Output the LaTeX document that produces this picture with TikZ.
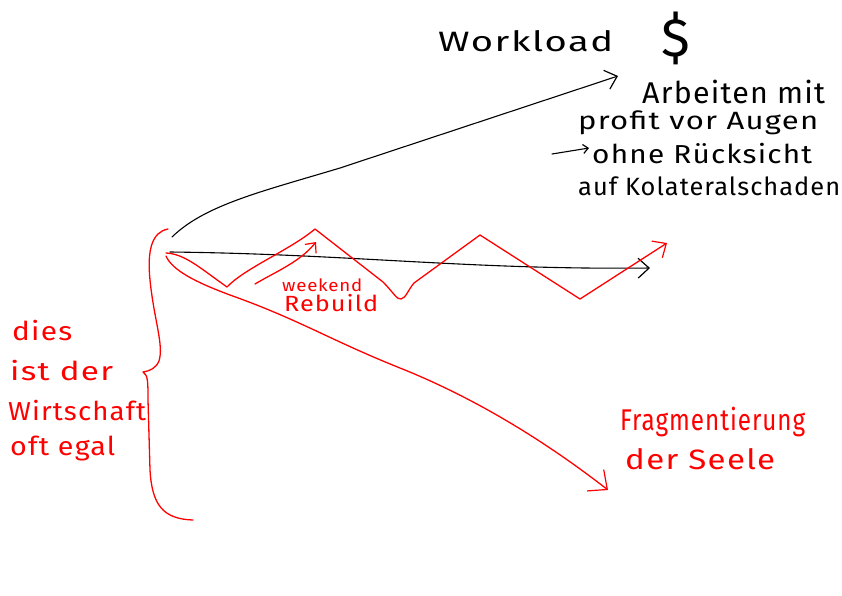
\documentclass[tikz,border=0pt]{standalone}
\usepackage{fontspec}
\setmainfont{Fira Sans}
\newfontfamily\hand[LetterSpace=4]{Fira Sans}
\usetikzlibrary{arrows.meta}
\newsavebox\hwbox
\newcommand\hw[2]{\sbox\hwbox{\hand #2}\edef\hwf{\fpeval{(#1)/(\the\wd\hwbox)}}\scalebox{\hwf}[1]{\usebox\hwbox}}
\definecolor{pen}{RGB}{255,0,0}
\tikzset{
  inkk/.style={draw=black, line width=1.1pt, line cap=round, line join=round},
  inkr/.style={draw=pen, line width=1.3pt, line cap=round, line join=round},
  barb/.style={-{Straight Barb[length=#1, width=1.8*#1, line width=1.2pt]}},
  btext/.style={anchor=base west, inner sep=0pt, text=black},
  rtext/.style={anchor=base west, inner sep=0pt, text=pen},
}
\begin{document}
\begin{tikzpicture}[x=1pt, y=-1pt]
\useasboundingbox (0,0) rectangle (842,595);
\fill[white] (0,0) rectangle (842,595);

% named points
\coordinate (o1) at (172,237);
\coordinate (t1) at (618,76);
\coordinate (o2) at (170,252);
\coordinate (t2) at (650,268);
\coordinate (o3) at (166,253);
\coordinate (t3) at (667,243);
\coordinate (o4) at (166,256);
\coordinate (t4) at (608,490);
\coordinate (wr1) at (255,284);
\coordinate (wr2) at (316,242);
\coordinate (sa1) at (552,154);
\coordinate (sa2) at (589,148);

% black texts
\node[btext, font=\fontsize{28}{32}\selectfont] (wl) at (438,51) {\hw{175}{Workload}};
\node[inner sep=0pt, font=\fontsize{54}{54}\selectfont] (dollar) at (676,38) {\$};
\node[btext, font=\fontsize{30}{34}\selectfont] (b1) at (642,103) {\hw{183}{Arbeiten mit}};
\node[btext, font=\fontsize{25}{28}\selectfont] (b2) at (578,129) {\hw{240}{profit vor Augen}};
\node[btext, font=\fontsize{26}{30}\selectfont] (b3) at (592,163) {\hw{220}{ohne Rücksicht}};
\node[btext, font=\fontsize{25}{28}\selectfont] (b4) at (578,195) {\hw{262}{auf Kolateralschaden}};

% red texts
\node[rtext, font=\fontsize{26}{30}\selectfont] (r1) at (12,340) {\hw{60}{dies}};
\node[rtext, font=\fontsize{26}{30}\selectfont] (r2) at (10,380) {\hw{103}{ist der}};
\node[rtext, font=\fontsize{26}{30}\selectfont] (r3) at (8,420) {\hw{138}{Wirtschaft}};
\node[rtext, font=\fontsize{26}{30}\selectfont] (r4) at (10,455) {\hw{105}{oft egal}};
\node[rtext, font=\fontsize{17}{20}\selectfont] (wk) at (282,291) {\hw{80}{weekend}};
\node[rtext, font=\fontsize{22}{26}\selectfont] (rb) at (284,311) {\hw{94}{Rebuild}};
\node[rtext, font=\fontsize{30}{34}\selectfont] (f1) at (620,430) {\hw{185}{Fragmentierung}};
\node[rtext, font=\fontsize{28}{32}\selectfont] (f2) at (625,469) {\hw{150}{der Seele}};

% black connectors
\draw[inkk, barb=11pt] (o1) .. controls (205,205) and (260,192) .. (340,168) -- (t1);
\draw[inkk, barb=11pt] (o2) .. controls (350,254) and (470,270) .. (t2);
\draw[inkk, barb=5pt] (sa1) -- (sa2);

% red zigzag
\draw[inkr, barb=11pt] (o3) .. controls (185,254) and (200,268) .. (227,287)
  .. controls (245,268) and (290,250) .. (315,229)
  -- (383,282) .. controls (393,292) and (397,300) .. (401,299)
  .. controls (406,298) and (408,290) .. (414,283)
  -- (480,235) -- (580,299) -- (t3);
% weekend rebuild arrow
\draw[inkr, barb=8pt] (wr1) .. controls (275,272) and (300,262) .. (wr2);
% lower red line
\draw[inkr, barb=15pt] (o4) .. controls (172,270) and (195,282) .. (230,295)
  .. controls (300,320) and (330,340) .. (400,368)
  .. controls (480,400) and (550,445) .. (t4);
% brace
\draw[inkr] (168,229) .. controls (152,232) and (147,250) .. (150,280)
  .. controls (154,320) and (164,345) .. (159,361)
  .. controls (156,368) and (150,371) .. (143,372)
  .. controls (148,375) and (148,382) .. (148,400)
  -- (150,470) .. controls (152,505) and (163,519) .. (193,520);
\end{tikzpicture}
\end{document}
